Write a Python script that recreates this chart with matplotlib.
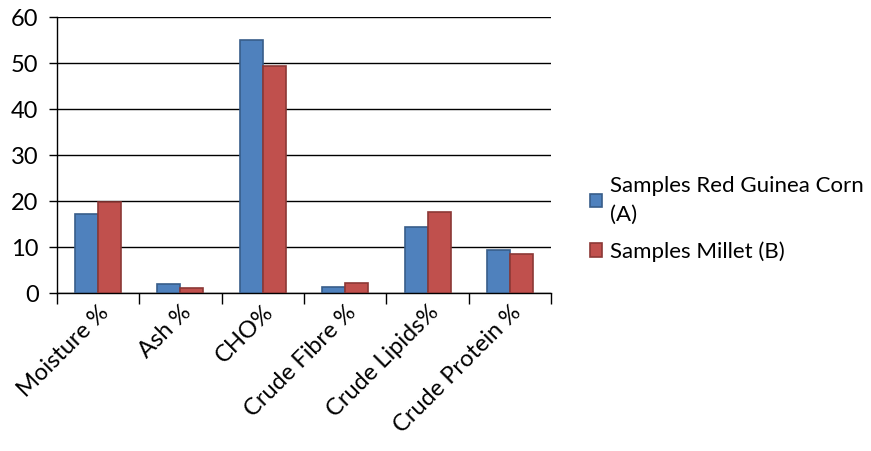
import numpy as np
import matplotlib.pyplot as plt
from matplotlib.ticker import FixedLocator

plt.rcParams['font.family'] = ['Lato', 'DejaVu Sans']

# Datos
categorias = ['Moisture %', 'Ash %', 'CHO%', 'Crude Fibre %', 'Crude Lipids%', 'Crude Protein %']
guinea_corn = [17.1, 1.9, 55.1, 1.4, 14.4, 9.3]
millet = [19.8, 1.1, 49.3, 2.2, 17.7, 8.5]
series = ['Samples Red Guinea Corn\n(A)', 'Samples Millet (B)']

fig = plt.figure(figsize=(8.71, 4.51), dpi=100)
ax = fig.add_axes([0.065, 0.35, 0.568, 0.612])

x = np.arange(len(categorias))
w = 0.28
ax.bar(x - w / 2, guinea_corn, w, color='#4F81BD', edgecolor='#385D8A', linewidth=1.2, label=series[0], zorder=3)
ax.bar(x + w / 2, millet, w, color='#C0504D', edgecolor='#8C3836', linewidth=1.2, label=series[1], zorder=3)

ax.set_ylim(0, 60)
ax.set_xlim(-0.5, len(categorias) - 0.5)
ax.set_yticks(range(0, 61, 10))
ax.yaxis.grid(True, color='black', linewidth=1)
ax.set_axisbelow(True)

# ticks entre categorias
ax.xaxis.set_major_locator(FixedLocator(np.arange(-0.5, len(categorias), 1)))
ax.set_xticklabels([])
ax.xaxis.set_minor_locator(FixedLocator(x))
ax.set_xticklabels(categorias, minor=True, rotation=45, ha='right', rotation_mode='anchor', fontsize=17)
ax.tick_params(axis='x', which='major', length=8, width=1, color='black')
ax.tick_params(axis='x', which='minor', length=0, pad=6)
ax.tick_params(axis='y', length=6, width=1, labelsize=17, pad=7)

for s in ['top', 'right']:
    ax.spines[s].set_visible(False)
for s in ['left', 'bottom']:
    ax.spines[s].set_color('black')
    ax.spines[s].set_linewidth(1)

leg = ax.legend(loc='center left', bbox_to_anchor=(0.677, 0.515), bbox_transform=fig.transFigure,
                frameon=False, fontsize=16, handlelength=0.55, handleheight=0.55,
                handletextpad=0.35, labelspacing=0.75, borderpad=0, borderaxespad=0)
for t in leg.get_texts():
    t.set_linespacing(1.55)

plt.savefig('out.png', dpi=100)
